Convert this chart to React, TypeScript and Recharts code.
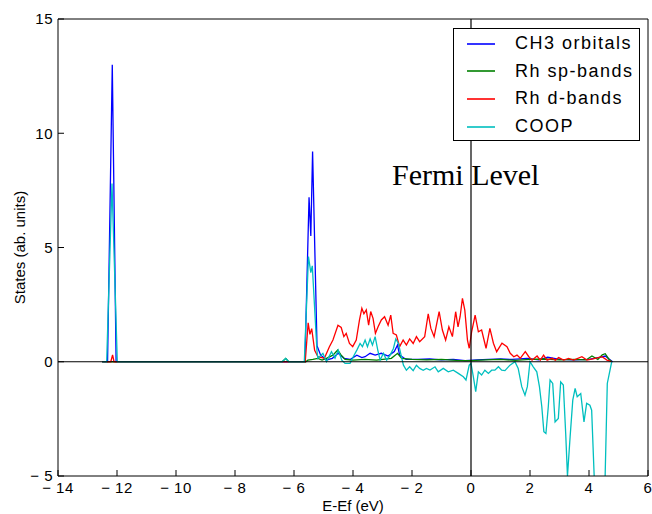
import { LineChart, Line, XAxis, YAxis, ReferenceLine, Legend } from "recharts";

const xTicks = [-14, -12, -10, -8, -6, -4, -2, 0, 2, 4, 6];
const yTicks = [-5, 0, 5, 10, 15];

// CH3 orbitals (blue)
const ch3Energy = [
  -12.5, -12.32, -12.16, -12.03, -5.63, -5.49, -5.43, -5.37, -5.22, -5.1, -4.9, -4.7, -4.5, -4.3,
  -4.1, -3.87, -3.7, -3.59, -3.42, -3.25, -3.04, -2.81, -2.6, -2.49, -2.42, -2.2, -1.8, -1.4, -1.0,
  -0.6, -0.2, 0.2, 0.6, 1.0, 1.4, 1.9, 2.3, 2.6, 3.0, 3.5, 4.0, 4.4, 4.55, 4.7, 4.8,
];
const ch3States = [
  0, 0, 13.0, 0, 0, 7.2, 5.5, 9.2, 0.7, 0.3, 0.08, 0.15, 0.37, 0.15,
  0.1, 0.29, 0.18, 0.22, 0.37, 0.29, 0.37, 0.25, 0.45, 0.73, 0.29, 0.1, 0.1, 0.12, 0.08,
  0.1, 0.05, 0.08, 0.1, 0.12, 0.1, 0.15, 0.08, 0.2, 0.1, 0.08, 0.1, 0.2, 0.25, 0.1, 0,
];

// Rh sp-bands (green)
const spEnergy = [
  -12.5, -6.4, -6.28, -6.18, -5.6, -5.53, -5.36, -5.19, -5.05, -4.9, -4.68, -4.52, -4.4, -4.27,
  -4.0, -3.6, -3.2, -2.7, -2.49, -2.35, -2.0, -1.5, -1.0, -0.5, 0, 0.5, 1.0, 1.5, 2.0, 2.5, 3.0,
  3.5, 3.9, 4.1, 4.3, 4.45, 4.55, 4.68, 4.78,
];
const spStates = [
  0, 0, 0.15, 0, 0, 0.07, 0.1, 0.15, 0.07, 0.15, 0.29, 0.51, 0.29, 0.1,
  0.07, 0.1, 0.07, 0.15, 0.37, 0.15, 0.1, 0.08, 0.1, 0.06, 0.05, 0.08, 0.1, 0.06, 0.1, 0.12, 0.08,
  0.1, 0.08, 0.25, 0.1, 0.3, 0.35, 0.1, 0,
];

// Rh d-bands (red)
const dEnergy = [
  -12.5, -12.21, -12.15, -12.1, -5.62, -5.52, -5.46, -5.4, -5.3, -5.19, -4.97, -4.8, -4.68, -4.51,
  -4.4, -4.31, -4.23, -4.12, -4.01, -3.89, -3.78, -3.7, -3.63, -3.55, -3.47, -3.4, -3.32, -3.24,
  -3.15, -3.04, -2.93, -2.81, -2.72, -2.64, -2.53, -2.42, -2.3, -2.19, -2.08, -1.96, -1.85, -1.74,
  -1.57, -1.45, -1.36, -1.25, -1.08, -0.97, -0.86, -0.75, -0.63, -0.52, -0.44, -0.37, -0.29,
  -0.21, -0.12, -0.06, 0.02, 0.14, 0.25, 0.36, 0.51, 0.64, 0.76, 0.87, 1.05, 1.22, 1.33, 1.45,
  1.56, 1.67, 1.84, 1.96, 2.07, 2.24, 2.35, 2.46, 2.58, 2.75, 2.86, 2.97, 3.14, 3.31, 3.48, 3.76,
  3.93, 4.21, 4.44, 4.61, 4.78,
];
const dStates = [
  0, 0, 0.3, 0, 0, 1.7, 1.2, 1.45, 0.5, 0.22, 0.15, 0.66, 0.95, 1.6,
  1.5, 1.1, 1.24, 0.8, 0.66, 0.95, 1.83, 2.34, 2.1, 2.27, 1.6, 2.2, 1.9, 1.24,
  1.53, 1.83, 1.97, 1.6, 2.04, 1.24, 1.17, 0.66, 0.95, 0.73, 1.0, 0.8, 1.1, 0.88,
  1.1, 2.1, 1.46, 1.1, 2.19, 1.39, 0.95, 1.53, 1.1, 2.19, 1.53, 1.97, 2.77,
  2.26, 0.95, 0.59, 1.3, 2.04, 1.31, 1.39, 0.59, 1.46, 0.81, 0.44, 0.81, 0.66, 0.37, 0.22,
  0.29, 0.15, 0.44, 0.22, 0.07, 0.25, 0.07, 0.29, 0.07, 0.15, 0.07, 0.18, 0.07, 0.15, 0.07, 0.22,
  0.07, 0.15, 0.22, 0.07, 0,
];

// COOP (cyan)
const coopEnergy = [
  -12.5, -12.35, -12.17, -11.99, -6.4, -6.28, -6.18, -5.65, -5.51, -5.43, -5.38, -5.22, -5.19,
  -5.02, -4.9, -4.73, -4.61, -4.5, -4.38, -4.27, -4.1, -3.99, -3.87, -3.76, -3.68, -3.59, -3.51,
  -3.42, -3.34, -3.25, -3.16, -3.08, -2.97, -2.86, -2.74, -2.63, -2.55, -2.46, -2.37, -2.29, -2.19,
  -2.08, -1.96, -1.85, -1.74, -1.62, -1.51, -1.39, -1.22, -1.11, -0.94, -0.77, -0.6, -0.43, -0.26,
  -0.17, -0.06, 0, 0.08, 0.16, 0.25, 0.36, 0.47, 0.59, 0.7, 0.81, 0.93, 1.04, 1.15, 1.32, 1.49,
  1.6, 1.72, 1.83, 1.91, 2.0, 2.11, 2.23, 2.32, 2.4, 2.47, 2.54, 2.62, 2.68, 2.77, 2.85, 2.96, 3.04,
  3.13, 3.21, 3.27, 3.36, 3.45, 3.53, 3.6, 3.72, 3.83, 3.92, 4.03, 4.09, 4.22, 4.52, 4.62, 4.77,
];
const coopStates = [
  0, 0, 7.8, 0, 0, 0.15, 0, 0, 4.6, 3.9, 4.2, 0.45, 0.15,
  0.37, 0, 0.44, 0.15, 0.51, 0.07, -0.07, -0.07, 0.22, 0.51, 0.8, 0.66, 0.95, 0.66,
  1.0, 0.73, 1.1, 0.51, 0.07, 0.37, 0.07, 0.29, 0.58, 1.0, 0.8, 0.29, -0.15, -0.37,
  -0.22, -0.39, -0.15, -0.29, -0.37, -0.29, -0.36, -0.22, -0.44, -0.29, -0.44, -0.37, -0.51, -0.66,
  -0.8, -0.15, -0.07, -0.66, -1.31, -0.44, -0.58, -0.37, -0.51, -0.37, -0.37, -0.22, -0.37, -0.39, -0.15, 0,
  -0.29, -1.09, -1.46, -1.09, 0, -0.22, -0.44, -1.09, -1.97, -3.06, -3.14, -1.97, -0.8, -0.95, -2.63, -2.48, -0.88,
  -1.02, -3.14, -5.0, -3.28, -1.68, -1.17, -1.53, -1.39, -2.63, -1.82, -1.9, -2.12, -6.5, -6.5, -0.95, 0,
];

const toPoints = (energy: number[], states: number[]) =>
  energy.map((e, i) => ({ e, v: states[i] }));

const series = [
  { name: "CH3 orbitals", color: "#0000ff", data: toPoints(ch3Energy, ch3States) },
  { name: "Rh sp-bands", color: "#008000", data: toPoints(spEnergy, spStates) },
  { name: "Rh d-bands", color: "#ff0000", data: toPoints(dEnergy, dStates) },
  { name: "COOP", color: "#00bfbf", data: toPoints(coopEnergy, coopStates) },
];

const fmt = (v: number) => (v < 0 ? `\u2212 ${-v}` : `${v}`);

const tickStyle = { fill: "#000", fontSize: 15, letterSpacing: 0.5 };

function LegendBox() {
  return (
    <div
      style={{
        border: "1px solid #000",
        background: "#fff",
        width: 185,
        height: 110,
        paddingTop: 1,
        boxSizing: "content-box",
      }}
    >
      {series.map((s) => (
        <div
          key={s.name}
          style={{ position: "relative", height: 27.6, display: "flex", alignItems: "center" }}
        >
          <svg width={28} height={4} style={{ position: "absolute", left: 13 }}>
            <line x1={0} y1={2} x2={28} y2={2} stroke={s.color} strokeWidth={1.6} />
          </svg>
          <span
            style={{
              position: "absolute",
              left: 61,
              fontSize: 18,
              letterSpacing: 1.5,
              color: "#000",
              whiteSpace: "nowrap",
            }}
          >
            {s.name}
          </span>
        </div>
      ))}
    </div>
  );
}

export default function App() {
  return (
    <div style={{ position: "absolute", left: 0, top: 0, fontFamily: "'Liberation Sans', Arial, sans-serif" }}>
      <LineChart width={652} height={514} margin={{ top: 18, right: 3, left: 0, bottom: 0 }}>
        <XAxis
          dataKey="e"
          type="number"
          domain={[-14, 6]}
          ticks={xTicks}
          tickFormatter={fmt}
          tickSize={-6}
          tickMargin={12}
          height={38}
          stroke="#000"
          tick={tickStyle}
          allowDataOverflow
          label={{ value: "E-Ef (eV)", position: "insideBottom", offset: 3, fill: "#000", fontSize: 15 }}
        />
        <XAxis
          xAxisId="top"
          orientation="top"
          type="number"
          domain={[-14, 6]}
          ticks={xTicks}
          tickSize={-6}
          tick={false}
          height={1}
          stroke="#000"
        />
        <YAxis
          type="number"
          domain={[-5, 15]}
          ticks={yTicks}
          tickFormatter={fmt}
          tickSize={-6}
          tickMargin={11}
          width={58}
          stroke="#000"
          tick={tickStyle}
          allowDataOverflow
          label={{
            value: "States (ab. units)",
            angle: -90,
            position: "insideLeft",
            offset: 20,
            fill: "#000",
            fontSize: 15,
            style: { textAnchor: "middle" },
          }}
        />
        <YAxis
          yAxisId="right"
          orientation="right"
          type="number"
          domain={[-5, 15]}
          ticks={yTicks}
          tickSize={-6}
          tick={false}
          width={1}
          stroke="#000"
        />
        {series.map((s) => (
          <Line
            key={s.name}
            data={s.data}
            dataKey="v"
            name={s.name}
            type="linear"
            stroke={s.color}
            strokeWidth={1.3}
            dot={false}
            isAnimationActive={false}
          />
        ))}
        <ReferenceLine y={0} stroke="#000" strokeWidth={1.2} />
        <ReferenceLine
          x={0}
          stroke="#000"
          strokeWidth={1.2}
          label={(props: any) => {
            const vb = props.viewBox || { x: 471, y: 19 };
            return (
              <text
                x={vb.x - 79}
                y={vb.y + 166}
                fontFamily="'Liberation Serif', 'Times New Roman', serif"
                fontSize={30}
                fill="#000"
              >
                Fermi Level
              </text>
            );
          }}
        />
        <Legend
          layout="horizontal"
          verticalAlign="middle"
          align="center"
          content={() => <LegendBox />}
          wrapperStyle={{ left: 453, top: 28, width: 187, height: 113 }}
        />
      </LineChart>
    </div>
  );
}
